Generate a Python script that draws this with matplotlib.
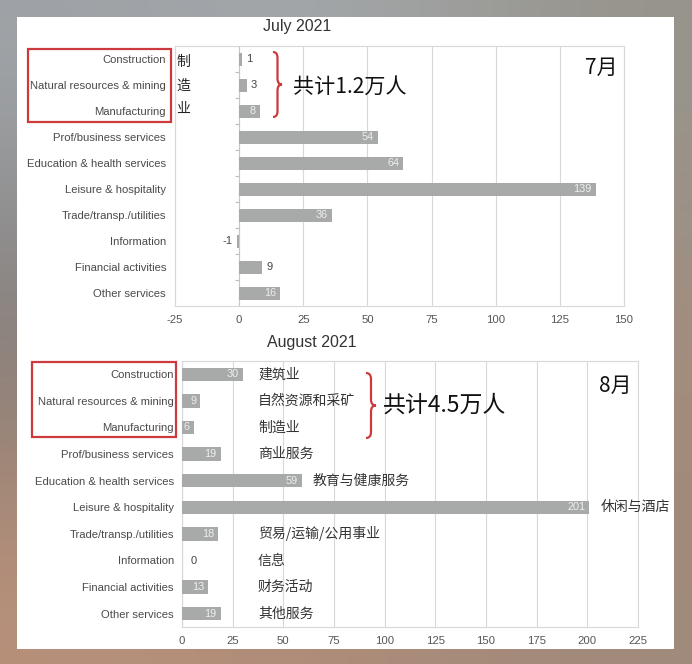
import numpy as np
import matplotlib
matplotlib.use("Agg")
import matplotlib.pyplot as plt
from matplotlib.patches import Rectangle, PathPatch
from matplotlib.path import Path

# ---------------- data ----------------
categories = ["Construction", "Natural resources & mining", "Manufacturing",
              "Prof/business services", "Education & health services",
              "Leisure & hospitality", "Trade/transp./utilities", "Information",
              "Financial activities", "Other services"]
july_values = [1, 3, 8, 54, 64, 139, 36, -1, 9, 16]
aug_values = [30, 9, 6, 19, 59, 201, 18, 0, 13, 19]
july_ticks = [-25, 0, 25, 50, 75, 100, 125, 150]
aug_ticks = [0, 25, 50, 75, 100, 125, 150, 175, 200, 225]
cn_labels = ["建筑业", "自然资源和采矿", "制造业", "商业服务", "教育与健康服务",
             "休闲与酒店", "贸易/运输/公用事业", "信息", "财务活动", "其他服务"]
july_title = "July 2021"
aug_title = "August 2021"
july_total = "共计1.2万人"
aug_total = "共计4.5万人"
july_month = "7月"
aug_month = "8月"
manuf_vertical = ["制", "造", "业"]

# label placement (inside bar = True)
july_inside = [False, False, True, True, True, True, True, False, False, True]
aug_inside = [True, True, True, True, True, True, True, False, True, True]

W, H = 692, 664
CJK = ["Noto Sans CJK SC", "DejaVu Sans"]
LAT = ["Liberation Sans", "DejaVu Sans"]

fig = plt.figure(figsize=(W / 100, H / 100), dpi=100)

def fx(px):
    return px / W

def fy(py):
    return 1 - py / H

# background (photo-like blurred surround)
bg = fig.add_axes([0, 0, 1, 1], zorder=-10)
cols = np.array([
    [[160, 164, 168], [165, 170, 174], [150, 148, 140]],
    [[125, 120, 117], [150, 145, 140], [165, 140, 125]],
    [[185, 145, 122], [175, 140, 120], [160, 138, 124]],
]) / 255.0
bg.imshow(cols, extent=[0, 1, 0, 1], aspect="auto", interpolation="bicubic")
bg.set_axis_off()
fig.patches.append(Rectangle((fx(17), fy(649)), fx(674) - fx(17), fy(17) - fy(649),
                             transform=fig.transFigure, facecolor="white",
                             edgecolor="none", zorder=-5))

BAR = "#a8aaaa"
GRID = "#d8d8d8"
TXT = "#555555"


def draw_panel(rect, values, ticks, inside, pad_px):
    ax = fig.add_axes(rect)
    ax.set_facecolor("none")
    y = np.arange(len(categories))
    ax.barh(y, values, height=0.5, color=BAR, zorder=3)
    ax.set_xlim(ticks[0], ticks[-1])
    ax.set_ylim(len(categories) - 0.5, -0.5)
    ax.set_xticks(ticks)
    ax.set_xticklabels([str(t) for t in ticks], fontsize=8.2, color=TXT, family=LAT)
    ax.set_yticks(y)
    ax.set_yticklabels(categories, fontsize=8.1, color="#4a4a4a", family=LAT)
    ax.tick_params(axis="y", length=0, pad=pad_px * 0.72)
    ax.tick_params(axis="x", length=0, pad=6.5)
    for t in ticks:
        ax.axvline(t, color=GRID, lw=0.8, zorder=1)
    for s in ax.spines.values():
        s.set_color(GRID)
        s.set_linewidth(0.8)
    # axis at zero with small ticks between categories
    ax.axvline(0, color="#c8c8c8", lw=0.8, zorder=2)
    b = np.arange(len(categories) + 1) - 0.5
    ax.plot(np.zeros_like(b), b, ls="none", marker=0, markersize=3,
            color="#bdbdbd", mew=0.8, zorder=2)
    for i, v in enumerate(values):
        if inside[i]:
            ax.annotate(str(v), (v, i), xytext=(-3, 0), textcoords="offset points",
                        ha="right", va="center", fontsize=7.8, color="#eeeeee",
                        family=LAT, zorder=4)
        else:
            off = 3 if v >= 0 else -3
            ax.annotate(str(v), (v, i), xytext=(off + (3 if v == 0 else 0), 0),
                        textcoords="offset points",
                        ha="left" if v >= 0 else "right", va="center", fontsize=8,
                        color="#444444", family=LAT, zorder=4)
    return ax


ax1 = draw_panel([fx(175), fy(306), fx(624) - fx(175), fy(46) - fy(306)],
                 july_values, july_ticks, july_inside, 9)
ax2 = draw_panel([fx(182), fy(627), fx(638) - fx(182), fy(361) - fy(627)],
                 aug_values, aug_ticks, aug_inside, 8)

fig.text(fx(297), fy(27), july_title, ha="center", va="center", fontsize=11.5,
         color="#333333", family=LAT)
fig.text(fx(312), fy(342), aug_title, ha="center", va="center", fontsize=11.5,
         color="#333333", family=LAT)

# Chinese annotations
for k, ch in enumerate(manuf_vertical):
    fig.text(fx(183), fy(62 + 23.5 * k), ch, ha="center", va="center",
             fontsize=10, color="#222222", family=CJK)
fig.text(fx(293), fy(87), july_total, ha="left", va="center", fontsize=15.2,
         color="#111111", family=CJK)
fig.text(fx(618), fy(68), july_month, ha="right", va="center", fontsize=15,
         color="#111111", family=CJK)
fig.text(fx(383), fy(405), aug_total, ha="left", va="center", fontsize=16.5,
         color="#111111", family=CJK)
fig.text(fx(632), fy(386), aug_month, ha="right", va="center", fontsize=15,
         color="#111111", family=CJK)

for i, (lab, v) in enumerate(zip(cn_labels, aug_values)):
    xpos = max(37.5, v + 5.5)
    ax2.text(xpos, i, lab, ha="left", va="center", fontsize=10,
             color="#333333", family=CJK, zorder=5)

RED = "#cc3a3e"
fig.patches.append(Rectangle((fx(28), fy(122)), fx(171) - fx(28), fy(49) - fy(122),
                             transform=fig.transFigure, fill=False, edgecolor=RED, lw=1.6))
fig.patches.append(Rectangle((fx(32), fy(437)), fx(176) - fx(32), fy(362) - fy(437),
                             transform=fig.transFigure, fill=False, edgecolor=RED, lw=1.6))


def brace(x0, yt, yb, w):
    ym = (yt + yb) / 2
    r = 6
    pts = [(x0, yt), (x0 + w / 2, yt), (x0 + w / 2, yt + r),
           (x0 + w / 2, ym - r), (x0 + w / 2, ym), (x0 + w, ym),
           (x0 + w / 2, ym), (x0 + w / 2, ym + r),
           (x0 + w / 2, yb - r), (x0 + w / 2, yb), (x0, yb)]
    codes = [Path.MOVETO, Path.CURVE3, Path.CURVE3, Path.LINETO, Path.CURVE3, Path.CURVE3,
             Path.CURVE3, Path.CURVE3, Path.LINETO, Path.CURVE3, Path.CURVE3]
    verts = [(fx(px), fy(py)) for px, py in pts]
    fig.patches.append(PathPatch(Path(verts, codes), transform=fig.transFigure,
                                 fill=False, edgecolor=RED, lw=1.6))


brace(273, 52, 117, 9)
brace(366, 373, 438, 10)

fig.savefig("out.png", dpi=100)
